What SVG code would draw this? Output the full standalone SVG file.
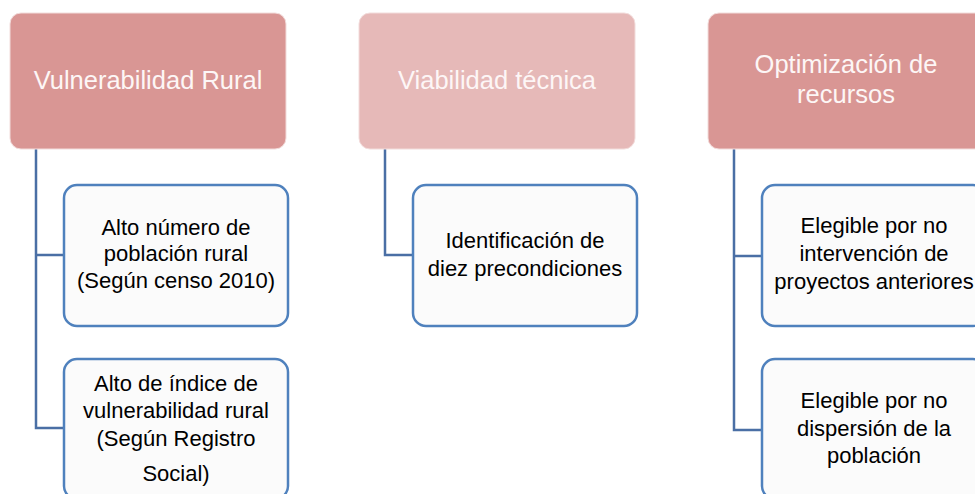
<svg xmlns="http://www.w3.org/2000/svg" width="975" height="494" viewBox="0 0 975 494">
<style>
.hd{stroke:#f2dcdb;stroke-width:1}
.h1{fill:#d99694}
.h2{fill:#e6b9b8}
.bx{fill:#fbfbfb;stroke:#4f81bd;stroke-width:2.5}
.ht{font-family:"Liberation Sans",Arial,sans-serif;font-size:25.5px;fill:#fdf6f6;text-anchor:middle}
.bt{font-family:"Liberation Sans",Arial,sans-serif;font-size:22px;fill:#000000;text-anchor:middle}
.cn{fill:none;stroke:#4a6fa5;stroke-width:2.5}
</style>
<rect width="975" height="494" fill="#ffffff"/>
<g id="connectors">
<path class="cn" d="M36,149 V428 H64 M36,255 H64"/>
<path class="cn" d="M385,149 V255 H413"/>
<path class="cn" d="M734,149 V430 H762 M734,256 H762"/>
</g>
<g id="h-vulnerabilidad">
<rect class="hd h1" x="10" y="13" width="276" height="136" rx="11"/>
<text class="ht" x="148" y="89">Vulnerabilidad Rural</text>
</g>
<g id="h-viabilidad">
<rect class="hd h2" x="359" y="13" width="276" height="136" rx="11"/>
<text class="ht" x="497" y="89">Viabilidad técnica</text>
</g>
<g id="h-optimizacion">
<rect class="hd h1" x="708" y="13" width="278" height="136" rx="11"/>
<text class="ht" x="846" y="73">Optimización de</text>
<text class="ht" x="846" y="103">recursos</text>
</g>
<g id="b-poblacion">
<rect class="bx" x="64" y="185" width="224" height="141" rx="13"/>
<text class="bt" x="176" y="235">Alto número de</text>
<text class="bt" x="176" y="261">población rural</text>
<text class="bt" x="176" y="288">(Según censo 2010)</text>
</g>
<g id="b-indice">
<rect class="bx" x="64" y="359" width="224" height="140" rx="13"/>
<text class="bt" x="176" y="391">Alto de índice de</text>
<text class="bt" x="176" y="418">vulnerabilidad  rural</text>
<text class="bt" x="176" y="446">(Según Registro</text>
<text class="bt" x="176" y="481">Social)</text>
</g>
<g id="b-identificacion">
<rect class="bx" x="413" y="185" width="224" height="141" rx="13"/>
<text class="bt" x="525" y="248">Identificación de</text>
<text class="bt" x="525" y="276">diez precondiciones</text>
</g>
<g id="b-intervencion">
<rect class="bx" x="762" y="185" width="224" height="141" rx="13"/>
<text class="bt" x="874" y="233">Elegible por no</text>
<text class="bt" x="874" y="261">intervención de</text>
<text class="bt" x="874" y="289">proyectos anteriores</text>
</g>
<g id="b-dispersion">
<rect class="bx" x="762" y="359" width="224" height="140" rx="13"/>
<text class="bt" x="874" y="408">Elegible por no</text>
<text class="bt" x="874" y="436">dispersión de la</text>
<text class="bt" x="874" y="463">población</text>
</g>
</svg>
